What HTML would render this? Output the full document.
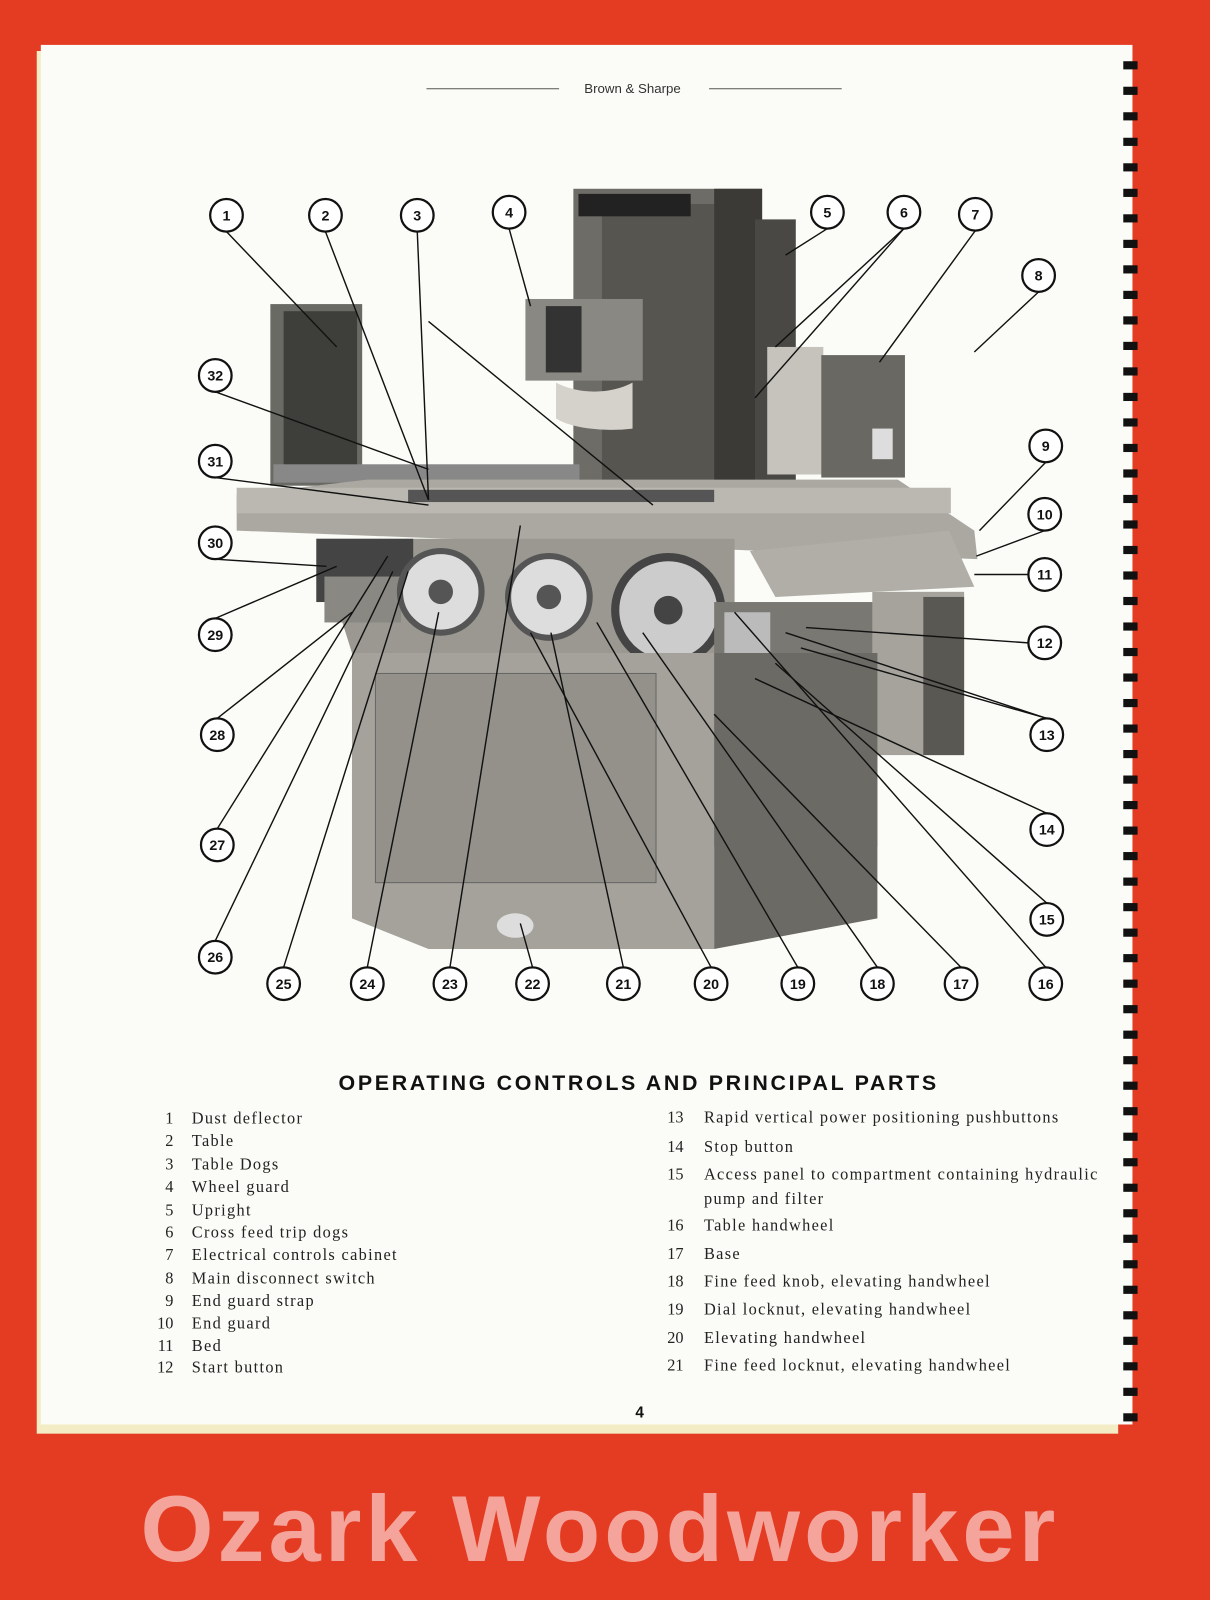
<!DOCTYPE html>
<html><head><meta charset="utf-8"><style>
html,body{margin:0;padding:0;background:#e33a24;}
svg{display:block}
</style></head><body>
<svg width="1210" height="1600" viewBox="0 0 1186 1568" preserveAspectRatio="none" xmlns="http://www.w3.org/2000/svg">
<rect x="0" y="0" width="1186" height="1568" fill="#e43b23"/>
<rect x="36" y="50" width="1060" height="1355" fill="#f3ecc4"/>
<rect x="40" y="44" width="1070" height="1352" fill="#fbfbf7"/>
<g fill="#111">
<rect x="1101" y="60" width="14" height="8"/><rect x="1101" y="85" width="14" height="8"/><rect x="1101" y="110" width="14" height="8"/>
<rect x="1101" y="135" width="14" height="8"/><rect x="1101" y="160" width="14" height="8"/><rect x="1101" y="185" width="14" height="8"/>
<rect x="1101" y="210" width="14" height="8"/><rect x="1101" y="235" width="14" height="8"/><rect x="1101" y="260" width="14" height="8"/>
<rect x="1101" y="285" width="14" height="8"/><rect x="1101" y="310" width="14" height="8"/><rect x="1101" y="335" width="14" height="8"/>
<rect x="1101" y="360" width="14" height="8"/><rect x="1101" y="385" width="14" height="8"/><rect x="1101" y="410" width="14" height="8"/>
<rect x="1101" y="435" width="14" height="8"/><rect x="1101" y="460" width="14" height="8"/><rect x="1101" y="485" width="14" height="8"/>
<rect x="1101" y="510" width="14" height="8"/><rect x="1101" y="535" width="14" height="8"/><rect x="1101" y="560" width="14" height="8"/>
<rect x="1101" y="585" width="14" height="8"/><rect x="1101" y="610" width="14" height="8"/><rect x="1101" y="635" width="14" height="8"/>
<rect x="1101" y="660" width="14" height="8"/><rect x="1101" y="685" width="14" height="8"/><rect x="1101" y="710" width="14" height="8"/>
<rect x="1101" y="735" width="14" height="8"/><rect x="1101" y="760" width="14" height="8"/><rect x="1101" y="785" width="14" height="8"/>
<rect x="1101" y="810" width="14" height="8"/><rect x="1101" y="835" width="14" height="8"/><rect x="1101" y="860" width="14" height="8"/>
<rect x="1101" y="885" width="14" height="8"/><rect x="1101" y="910" width="14" height="8"/><rect x="1101" y="935" width="14" height="8"/>
<rect x="1101" y="960" width="14" height="8"/><rect x="1101" y="985" width="14" height="8"/><rect x="1101" y="1010" width="14" height="8"/>
<rect x="1101" y="1035" width="14" height="8"/><rect x="1101" y="1060" width="14" height="8"/><rect x="1101" y="1085" width="14" height="8"/>
<rect x="1101" y="1110" width="14" height="8"/><rect x="1101" y="1135" width="14" height="8"/><rect x="1101" y="1160" width="14" height="8"/>
<rect x="1101" y="1185" width="14" height="8"/><rect x="1101" y="1210" width="14" height="8"/><rect x="1101" y="1235" width="14" height="8"/>
<rect x="1101" y="1260" width="14" height="8"/><rect x="1101" y="1285" width="14" height="8"/><rect x="1101" y="1310" width="14" height="8"/>
<rect x="1101" y="1335" width="14" height="8"/><rect x="1101" y="1360" width="14" height="8"/><rect x="1101" y="1385" width="14" height="8"/>
</g>
<line x1="418" y1="87" x2="548" y2="87" stroke="#555" stroke-width="1"/>
<line x1="695" y1="87" x2="825" y2="87" stroke="#555" stroke-width="1"/>
<text x="620" y="91" font-family="Liberation Sans,sans-serif" font-size="13" fill="#333" text-anchor="middle">Brown &amp; Sharpe</text>

<g>
<rect x="265" y="298" width="90" height="178" fill="#6a6a64"/>
<rect x="278" y="305" width="72" height="165" fill="#3e3e3a"/>
<rect x="562" y="185" width="185" height="290" fill="#6e6c66"/>
<rect x="590" y="200" width="110" height="270" fill="#57554f"/>
<rect x="700" y="185" width="47" height="290" fill="#3c3a36"/>
<rect x="740" y="215" width="40" height="260" fill="#4a4844"/>
<rect x="567" y="190" width="110" height="22" fill="#222"/>
<rect x="515" y="293" width="115" height="80" fill="#8a8882"/>
<rect x="535" y="300" width="35" height="65" fill="#333"/>
<path d="M545 375 A60 40 0 0 0 620 375 L620 420 A60 20 0 0 1 545 410 Z" fill="#d4d2ca"/>
<rect x="752" y="340" width="55" height="125" fill="#c5c3bb"/>
<rect x="805" y="348" width="82" height="120" fill="#6a6862"/>
<rect x="855" y="420" width="20" height="30" fill="#ddd"/>
<rect x="268" y="455" width="300" height="18" fill="#888"/>
<path d="M232 485 L360 470 L880 470 L955 520 L958 548 L232 520 Z" fill="#aaa8a0"/>
<rect x="232" y="478" width="700" height="25" fill="#bab8b0"/>
<rect x="400" y="480" width="300" height="12" fill="#555"/>
<path d="M310 528 L720 528 L720 640 L345 640 Z" fill="#9a9890"/>
<rect x="310" y="528" width="95" height="62" fill="#444"/>
<rect x="318" y="565" width="75" height="45" fill="#8a8882"/>
<circle cx="432" cy="580" r="40" fill="#ddd" stroke="#555" stroke-width="6"/>
<circle cx="432" cy="580" r="12" fill="#555"/>
<circle cx="538" cy="585" r="40" fill="#ddd" stroke="#555" stroke-width="6"/>
<circle cx="538" cy="585" r="12" fill="#555"/>
<circle cx="655" cy="598" r="52" fill="#ccc" stroke="#444" stroke-width="8"/>
<circle cx="655" cy="598" r="14" fill="#444"/>
<path d="M735 540 L930 520 L955 575 L760 585 Z" fill="#b0aea6"/>
<rect x="700" y="590" width="160" height="240" fill="#7a7872"/>
<rect x="855" y="580" width="90" height="160" fill="#a5a39b"/>
<rect x="905" y="585" width="40" height="155" fill="#5a5852"/>
<rect x="710" y="600" width="45" height="80" fill="#bbb"/>
<path d="M345 640 L700 640 L700 930 L420 930 L345 900 Z" fill="#a4a29a"/>
<rect x="368" y="660" width="275" height="205" fill="#93918a" stroke="#666"/>
<path d="M700 640 L860 640 L860 900 L700 930 Z" fill="#6c6a64"/>
<ellipse cx="505" cy="907" rx="18" ry="12" fill="#ddd"/>
</g>

<g stroke="#111" stroke-width="1.4" fill="none">
<line x1="222" y1="227" x2="330" y2="340"/>
<line x1="319" y1="227" x2="420" y2="490"/>
<line x1="409" y1="227" x2="420" y2="490"/>
<line x1="420" y1="315" x2="640" y2="495"/>
<line x1="499" y1="224" x2="520" y2="300"/>
<line x1="811" y1="224" x2="770" y2="250"/>
<line x1="886" y1="224" x2="760" y2="340"/>
<line x1="886" y1="224" x2="740" y2="390"/>
<line x1="956" y1="226" x2="862" y2="355"/>
<line x1="1018" y1="286" x2="955" y2="345"/>
<line x1="1025" y1="453" x2="960" y2="520"/>
<line x1="1024" y1="520" x2="957" y2="545"/>
<line x1="1008" y1="563" x2="955" y2="563"/>
<line x1="1008" y1="630" x2="790" y2="615"/>
<line x1="1026" y1="704" x2="770" y2="620"/>
<line x1="1026" y1="704" x2="785" y2="635"/>
<line x1="1026" y1="797" x2="740" y2="665"/>
<line x1="1026" y1="885" x2="760" y2="650"/>
<line x1="1025" y1="948" x2="720" y2="600"/>
<line x1="942" y1="948" x2="700" y2="700"/>
<line x1="860" y1="948" x2="630" y2="620"/>
<line x1="782" y1="948" x2="585" y2="610"/>
<line x1="697" y1="948" x2="520" y2="620"/>
<line x1="611" y1="948" x2="540" y2="620"/>
<line x1="522" y1="948" x2="510" y2="905"/>
<line x1="441" y1="948" x2="510" y2="515"/>
<line x1="360" y1="948" x2="430" y2="600"/>
<line x1="278" y1="948" x2="400" y2="560"/>
<line x1="211" y1="922" x2="385" y2="560"/>
<line x1="213" y1="812" x2="380" y2="545"/>
<line x1="213" y1="704" x2="345" y2="600"/>
<line x1="211" y1="606" x2="330" y2="555"/>
<line x1="211" y1="548" x2="320" y2="555"/>
<line x1="211" y1="468" x2="420" y2="495"/>
<line x1="211" y1="384" x2="420" y2="460"/>
</g>

<g font-family="Liberation Sans,sans-serif" font-size="14" font-weight="bold" text-anchor="middle" fill="#111">
<g fill="#fff" stroke="#111" stroke-width="2.2">
<circle cx="222" cy="211" r="16"/><circle cx="319" cy="211" r="16"/><circle cx="409" cy="211" r="16"/><circle cx="499" cy="208" r="16"/>
<circle cx="811" cy="208" r="16"/><circle cx="886" cy="208" r="16"/><circle cx="956" cy="210" r="16"/><circle cx="1018" cy="270" r="16"/>
<circle cx="1025" cy="437" r="16"/><circle cx="1024" cy="504" r="16"/><circle cx="1024" cy="563" r="16"/><circle cx="1024" cy="630" r="16"/>
<circle cx="1026" cy="720" r="16"/><circle cx="1026" cy="813" r="16"/><circle cx="1026" cy="901" r="16"/><circle cx="1025" cy="964" r="16"/>
<circle cx="942" cy="964" r="16"/><circle cx="860" cy="964" r="16"/><circle cx="782" cy="964" r="16"/><circle cx="697" cy="964" r="16"/>
<circle cx="611" cy="964" r="16"/><circle cx="522" cy="964" r="16"/><circle cx="441" cy="964" r="16"/><circle cx="360" cy="964" r="16"/>
<circle cx="278" cy="964" r="16"/><circle cx="211" cy="938" r="16"/><circle cx="213" cy="828" r="16"/><circle cx="213" cy="720" r="16"/>
<circle cx="211" cy="622" r="16"/><circle cx="211" cy="532" r="16"/><circle cx="211" cy="452" r="16"/><circle cx="211" cy="368" r="16"/>
</g>
<text x="222" y="216">1</text><text x="319" y="216">2</text><text x="409" y="216">3</text><text x="499" y="213">4</text>
<text x="811" y="213">5</text><text x="886" y="213">6</text><text x="956" y="215">7</text><text x="1018" y="275">8</text>
<text x="1025" y="442">9</text><text x="1024" y="509">10</text><text x="1024" y="568">11</text><text x="1024" y="635">12</text>
<text x="1026" y="725">13</text><text x="1026" y="818">14</text><text x="1026" y="906">15</text><text x="1025" y="969">16</text>
<text x="942" y="969">17</text><text x="860" y="969">18</text><text x="782" y="969">19</text><text x="697" y="969">20</text>
<text x="611" y="969">21</text><text x="522" y="969">22</text><text x="441" y="969">23</text><text x="360" y="969">24</text>
<text x="278" y="969">25</text><text x="211" y="943">26</text><text x="213" y="833">27</text><text x="213" y="725">28</text>
<text x="211" y="627">29</text><text x="211" y="537">30</text><text x="211" y="457">31</text><text x="211" y="373">32</text>
</g>

<text x="626" y="1068" font-family="Liberation Sans,sans-serif" font-size="21" font-weight="bold" text-anchor="middle" letter-spacing="2.6" fill="#111">OPERATING  CONTROLS  AND  PRINCIPAL  PARTS</text>

<g font-family="Liberation Serif,serif" font-size="16" fill="#222" letter-spacing="1.3">
<g text-anchor="end" letter-spacing="0">
<text x="170" y="1101">1</text><text x="170" y="1123">2</text><text x="170" y="1146">3</text><text x="170" y="1168">4</text>
<text x="170" y="1191">5</text><text x="170" y="1213">6</text><text x="170" y="1235">7</text><text x="170" y="1258">8</text>
<text x="170" y="1280">9</text><text x="170" y="1302">10</text><text x="170" y="1324">11</text><text x="170" y="1345">12</text>
<text x="670" y="1100">13</text><text x="670" y="1129">14</text><text x="670" y="1156">15</text><text x="670" y="1206">16</text>
<text x="670" y="1234">17</text><text x="670" y="1261">18</text><text x="670" y="1288">19</text><text x="670" y="1316">20</text><text x="670" y="1343">21</text>
</g>
<text x="188" y="1101">Dust deflector</text><text x="188" y="1123">Table</text><text x="188" y="1146">Table Dogs</text>
<text x="188" y="1168">Wheel guard</text><text x="188" y="1191">Upright</text><text x="188" y="1213">Cross feed trip dogs</text>
<text x="188" y="1235">Electrical controls cabinet</text><text x="188" y="1258">Main disconnect switch</text>
<text x="188" y="1280">End guard strap</text><text x="188" y="1302">End guard</text><text x="188" y="1324">Bed</text><text x="188" y="1345">Start button</text>
<text x="690" y="1100">Rapid vertical power positioning pushbuttons</text>
<text x="690" y="1129">Stop button</text>
<text x="690" y="1156">Access panel to compartment containing hydraulic</text>
<text x="690" y="1180">pump and filter</text>
<text x="690" y="1206">Table handwheel</text><text x="690" y="1234">Base</text>
<text x="690" y="1261">Fine feed knob, elevating handwheel</text>
<text x="690" y="1288">Dial locknut, elevating handwheel</text>
<text x="690" y="1316">Elevating handwheel</text>
<text x="690" y="1343">Fine feed locknut, elevating handwheel</text>
</g>
<text x="627" y="1389" font-family="Liberation Sans,sans-serif" font-size="15" font-weight="bold" text-anchor="middle" fill="#111">4</text>

<text x="588" y="1530" font-family="Liberation Sans,sans-serif" font-size="92" font-weight="bold" text-anchor="middle" letter-spacing="4" fill="#f4a49a">Ozark Woodworker</text>
</svg>
</body></html>
